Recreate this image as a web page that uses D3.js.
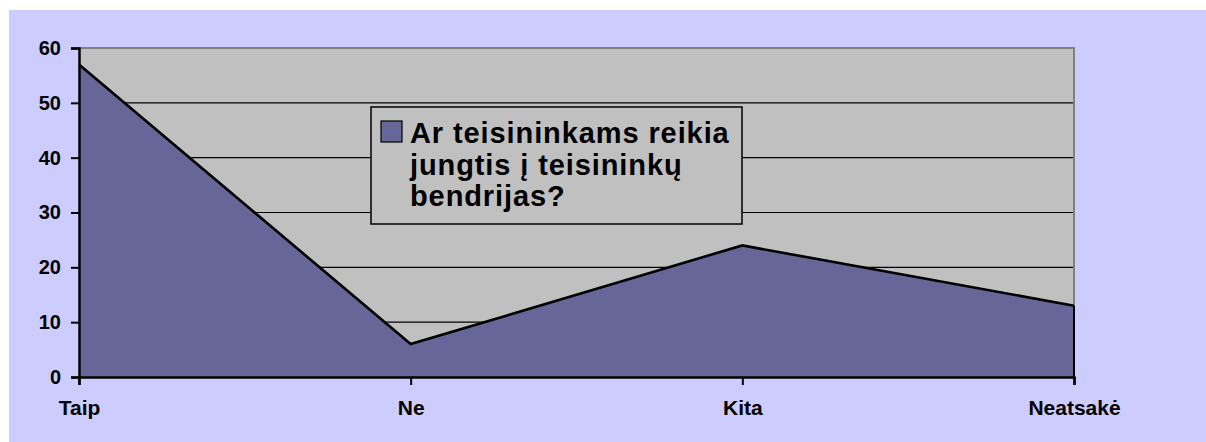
<!DOCTYPE html>
<html>
<head>
<meta charset="utf-8">
<script src="https://cdn.jsdelivr.net/npm/d3@7"></script>
<style>
  body { margin: 0; background: #ffffff; }
  svg { display: block; font-family: Arial, "Liberation Sans", sans-serif; }
</style>
</head>
<body>
<div id="chart"></div>
<script>
// chart data
var categories = ["Taip", "Ne", "Kita", "Neatsakė"];
var values = [57, 6, 24, 13];
var yTicks = [0, 10, 20, 30, 40, 50, 60];
var legendLines = ["Ar teisininkams reikia", "jungtis į teisininkų", "bendrijas?"];

var svgWidth = 1206;
var svgHeight = 442;

var plot = { left: 79, right: 1074, top: 48, bottom: 377 };

var svg = d3.select("#chart")
  .append("svg")
  .attr("width", svgWidth)
  .attr("height", svgHeight);

// lavender chart area
svg.append("rect")
  .attr("x", 9)
  .attr("y", 10)
  .attr("width", svgWidth - 9)
  .attr("height", svgHeight - 10)
  .attr("fill", "#ccccff");

var xScale = d3.scalePoint()
  .domain(categories)
  .range([plot.left, plot.right]);

var yScale = d3.scaleLinear()
  .domain([0, 60])
  .range([plot.bottom, plot.top]);

// grey plot background
svg.append("rect")
  .attr("x", plot.left)
  .attr("y", plot.top)
  .attr("width", plot.right - plot.left)
  .attr("height", plot.bottom - plot.top)
  .attr("fill", "#c0c0c0");

// gridlines
svg.append("g")
  .selectAll("line")
  .data(yTicks.filter(d => d > 0 && d < 60))
  .enter()
  .append("line")
  .attr("x1", plot.left)
  .attr("x2", plot.right)
  .attr("y1", d => yScale(d))
  .attr("y2", d => yScale(d))
  .attr("stroke", "#000")
  .attr("stroke-width", 1.2);

// top/right border in dark grey
svg.append("path")
  .attr("d", `M${plot.left},${plot.top}H${plot.right}V${plot.bottom}`)
  .attr("fill", "none")
  .attr("stroke", "#808080")
  .attr("stroke-width", 2);

// area series
var area = d3.area()
  .x((d, i) => xScale(categories[i]))
  .y0(yScale(0))
  .y1(d => yScale(d));

var line = d3.line()
  .x((d, i) => xScale(categories[i]))
  .y(d => yScale(d));

svg.append("path")
  .datum(values)
  .attr("d", area)
  .attr("fill", "#666699");

svg.append("path")
  .datum(values)
  .attr("d", line)
  .attr("fill", "none")
  .attr("stroke", "#000")
  .attr("stroke-width", 2.6);

// right edge of series
svg.append("line")
  .attr("x1", plot.right)
  .attr("x2", plot.right)
  .attr("y1", yScale(values[values.length - 1]))
  .attr("y2", plot.bottom)
  .attr("stroke", "#000")
  .attr("stroke-width", 2);

// axes
var yAxis = d3.axisLeft(yScale)
  .tickValues(yTicks)
  .tickSize(8)
  .tickPadding(10);

var xAxis = d3.axisBottom(xScale)
  .tickSize(8)
  .tickPadding(15);

var yG = svg.append("g")
  .attr("transform", `translate(${plot.left},0)`)
  .call(yAxis);

var xG = svg.append("g")
  .attr("transform", `translate(0,${plot.bottom})`)
  .call(xAxis);

[yG, xG].forEach(function(g) {
  g.select(".domain").attr("stroke", "#000").attr("stroke-width", 2.5);
  g.selectAll(".tick line").attr("stroke", "#000").attr("stroke-width", 2);
  g.selectAll(".tick text")
    .attr("fill", "#000")
    .style("font-weight", "bold")
    .style("font-family", "Arial, 'Liberation Sans', sans-serif");
});
yG.selectAll(".tick text").style("font-size", "20px");
xG.selectAll(".tick text").style("font-size", "21px");

// legend
var legend = svg.append("g");

legend.append("rect")
  .attr("x", 371)
  .attr("y", 107)
  .attr("width", 371)
  .attr("height", 117)
  .attr("fill", "#c0c0c0")
  .attr("stroke", "#000")
  .attr("stroke-width", 1.5);

legend.append("rect")
  .attr("x", 381)
  .attr("y", 121)
  .attr("width", 21)
  .attr("height", 21)
  .attr("fill", "#666699")
  .attr("stroke", "#000")
  .attr("stroke-width", 1.2);

legend.append("text")
  .selectAll("tspan")
  .data(legendLines)
  .enter()
  .append("tspan")
  .attr("x", 410)
  .attr("y", (d, i) => 143 + i * 31.5)
  .text(d => d)
  .attr("fill", "#000")
  .style("font-size", "29px")
  .style("letter-spacing", "0.9px")
  .style("font-weight", "bold");
</script>
</body>
</html>
